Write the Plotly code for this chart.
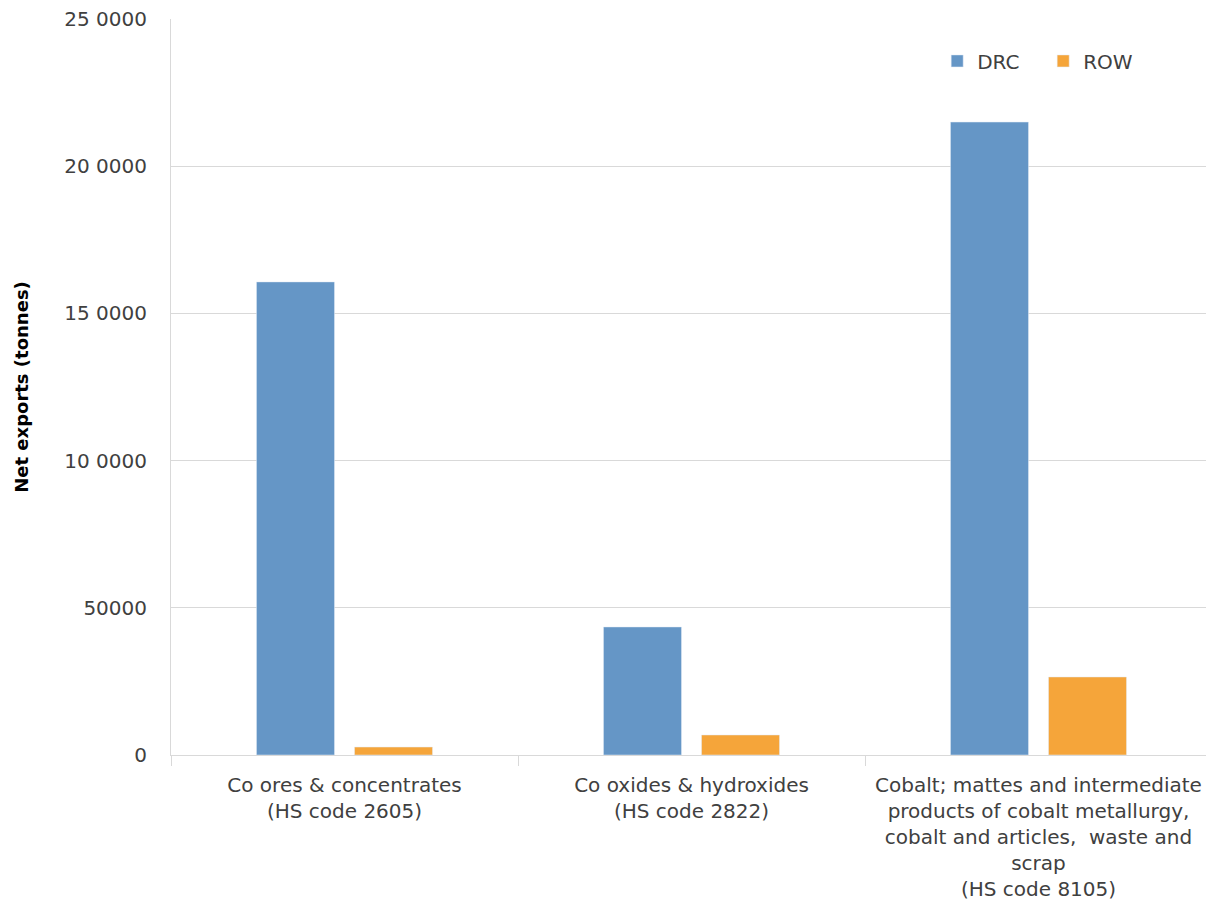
import plotly.graph_objects as go

categories = [
    "Co ores & concentrates<br>(HS code 2605)",
    "Co oxides & hydroxides<br>(HS code 2822)",
    "Cobalt; mattes and intermediate<br>products of cobalt metallurgy,<br>cobalt and articles,  waste and<br>scrap<br>(HS code 8105)",
]
drc_values = [160700, 43500, 215000]
row_values = [2700, 6800, 26500]
y_tickvals = [0, 50000, 100000, 150000, 200000, 250000]
y_ticktext = ["0", "50000", "10 0000", "15 0000", "20 0000", "25 0000"]

fig = go.Figure()
fig.add_trace(go.Bar(name="DRC", x=categories, y=drc_values, marker_color="#6596c6"))
fig.add_trace(go.Bar(name="ROW", x=categories, y=row_values, marker_color="#f5a53a"))

font_family = "DejaVu Sans, sans-serif"
fig.update_layout(
    width=1206, height=907,
    barmode="group", bargap=0.435, bargroupgap=0.204,
    plot_bgcolor="white", paper_bgcolor="white",
    margin=dict(l=163, r=2, t=11, b=160, autoexpand=False),
    font=dict(family=font_family, size=20, color="#404040"),
    legend=dict(orientation="h", x=0.736, y=0.943, xanchor="left", yanchor="middle",
                font=dict(size=20, color="#404040"), entrywidth=61,
                bgcolor="rgba(0,0,0,0)"),
    showlegend=True,
)
fig.update_yaxes(
    range=[0, 250000], tickvals=y_tickvals, ticktext=y_ticktext,
    showgrid=True, gridcolor="#d9d9d9", gridwidth=1,
    showline=True, linecolor="#d9d9d9", linewidth=1,
    zeroline=False, ticks="", ticklabelstandoff=19, ticklabeloverflow="allow",
    tickfont=dict(size=20, color="#404040"),
    title=dict(text="<b>Net exports (tonnes)</b>", font=dict(size=18, color="#000000"), standoff=30),
)
fig.update_xaxes(
    showline=True, linecolor="#d9d9d9", linewidth=1,
    ticks="outside", tickson="boundaries", ticklen=10, tickcolor="#d9d9d9",
    tickfont=dict(size=20, color="#404040"),
    tickangle=0, ticklabelstandoff=12, ticklabeloverflow="allow",
)
fig.write_html("out.html")
